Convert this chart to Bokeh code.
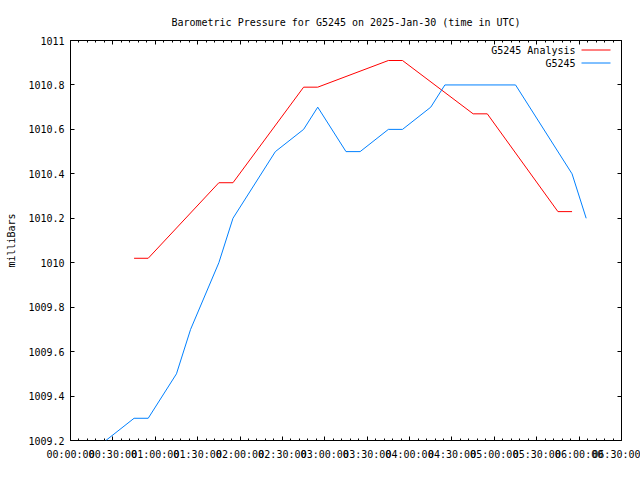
import pandas as pd
from bokeh.plotting import figure
from bokeh.models import (Range1d, FixedTicker, DatetimeAxis, LinearAxis, Label, Arrow,
                          ColumnDataSource, CustomLabelingPolicy)
from bokeh.embed import file_html
from bokeh.resources import INLINE

DAY = "2025-01-30"

# G5245 observations
obs_times = ["00:25", "00:45", "00:55", "01:15", "01:25", "01:45", "01:55", "02:25",
             "02:45", "02:55", "03:15", "03:25", "03:45", "03:55", "04:15", "04:25",
             "05:15", "05:55", "06:05"]
obs_values = [1009.2, 1009.3, 1009.3, 1009.5, 1009.7, 1010.0, 1010.2, 1010.5,
              1010.6, 1010.7, 1010.5, 1010.5, 1010.6, 1010.6, 1010.7, 1010.8,
              1010.8, 1010.4, 1010.2]

# G5245 Analysis
an_times = ["00:45", "00:55", "01:45", "01:55", "02:45", "02:55", "03:45", "03:55",
            "04:45", "04:55", "05:45", "05:55"]
an_values = [1010.02, 1010.02, 1010.36, 1010.36, 1010.79, 1010.79, 1010.91, 1010.91,
             1010.67, 1010.67, 1010.23, 1010.23]

x_tick_times = ["00:00", "00:30", "01:00", "01:30", "02:00", "02:30", "03:00", "03:30",
                "04:00", "04:30", "05:00", "05:30", "06:00", "06:30"]
x_tick_labels = ["00:00:00", "00:30:00", "01:00:00", "01:30:00", "02:00:00", "02:30:00",
                 "03:00:00", "03:30:00", "04:00:00", "04:30:00", "05:00:00", "05:30:00",
                 "06:00:00", "06:30:00"]
y_ticks = [1009.2, 1009.4, 1009.6, 1009.8, 1010.0, 1010.2, 1010.4, 1010.6, 1010.8, 1011.0]
y_tick_labels = ["1009.2", "1009.4", "1009.6", "1009.8", "1010", "1010.2", "1010.4",
                 "1010.6", "1010.8", "1011"]

TITLE = "Barometric Pressure for G5245 on 2025-Jan-30 (time in UTC)"
FONT = "DejaVu Sans Mono"
FS = "10px"


def to_dt(ts):
    return [pd.Timestamp(f"{DAY} {t}") for t in ts]


def to_ms(ts):
    return [int(pd.Timestamp(f"{DAY} {t}").value // 10**6) for t in ts]


x_major = to_ms(x_tick_times)
step = (x_major[1] - x_major[0]) / 5
x_minor = [x_major[0] + i * step for i in range(int((x_major[-1] - x_major[0]) / step) + 1)]

p = figure(x_axis_type="datetime", frame_width=551, frame_height=400,
           min_border_left=70, min_border_right=19, min_border_top=40, min_border_bottom=40,
           output_backend="svg", toolbar_location=None,
           x_range=Range1d(x_major[0], x_major[-1]),
           y_range=Range1d(y_ticks[0], y_ticks[-1]))

p.title.text = TITLE
p.title.align = "center"
p.title.vertical_align = "bottom"
p.title.text_font = FONT
p.title.text_font_size = FS
p.title.text_font_style = "normal"
p.title.text_color = "black"
p.title.standoff = 26

p.xgrid.visible = False
p.ygrid.visible = False
p.outline_line_color = "black"
p.outline_line_alpha = 1.0
p.outline_line_width = 1
p.background_fill_color = "white"
p.border_fill_color = "white"

xt = FixedTicker(ticks=x_major, minor_ticks=x_minor)
yt = FixedTicker(ticks=y_ticks, minor_ticks=[])

hide_all = CustomLabelingPolicy(code="""
for (let i = 0; i < indices.size; i++) { indices.unset(i) }
return indices
""")


def style_axis(ax, show_labels):
    ax.axis_line_color = None
    ax.major_tick_in = 4
    ax.major_tick_out = 0
    ax.minor_tick_in = 2
    ax.minor_tick_out = 0
    ax.major_tick_line_color = "black"
    ax.minor_tick_line_color = "black"
    ax.major_label_text_font = FONT
    ax.major_label_text_font_size = FS if show_labels else "0px"
    ax.major_label_text_color = "black"
    if not show_labels:
        ax.major_label_policy = hide_all
        ax.major_label_standoff = 0


xa = p.xaxis[0]
xa.ticker = xt
xa.major_label_overrides = dict(zip(x_major, x_tick_labels))
style_axis(xa, True)
xa.major_label_standoff = 8

ya = p.yaxis[0]
ya.ticker = yt
ya.major_label_overrides = dict(zip(y_ticks, y_tick_labels))
style_axis(ya, True)
ya.major_label_standoff = 6
ya.axis_label = "milliBars"
ya.axis_label_text_font = FONT
ya.axis_label_text_font_size = FS
ya.axis_label_text_font_style = "normal"
ya.axis_label_text_color = "black"
ya.axis_label_standoff = 8

top = DatetimeAxis(ticker=xt)
style_axis(top, False)
p.add_layout(top, "above")

right = LinearAxis(ticker=yt)
style_axis(right, False)
right.minor_tick_in = 0
p.add_layout(right, "right")

src_an = ColumnDataSource(dict(t=to_dt(an_times), v=an_values))
src_obs = ColumnDataSource(dict(t=to_dt(obs_times), v=obs_values))
p.line("t", "v", source=src_an, line_color="#ff0000", line_width=1)
p.line("t", "v", source=src_obs, line_color="#0080ff", line_width=1)

# gnuplot style key (text then sample), top right
for name, color, yy in [("G5245 Analysis", "#ff0000", 390.5), ("G5245", "#0080ff", 377.5)]:
    p.add_layout(Label(x=505, y=yy, x_units="screen", y_units="screen", text=name,
                       text_align="right", text_baseline="middle", text_font=FONT,
                       text_font_size=FS, text_color="black"))
    p.add_layout(Arrow(x_start=511, x_end=540, y_start=yy, y_end=yy,
                       start_units="screen", end_units="screen", end=None,
                       line_color=color, line_width=1))

open("out.html", "w").write(file_html(p, INLINE))
